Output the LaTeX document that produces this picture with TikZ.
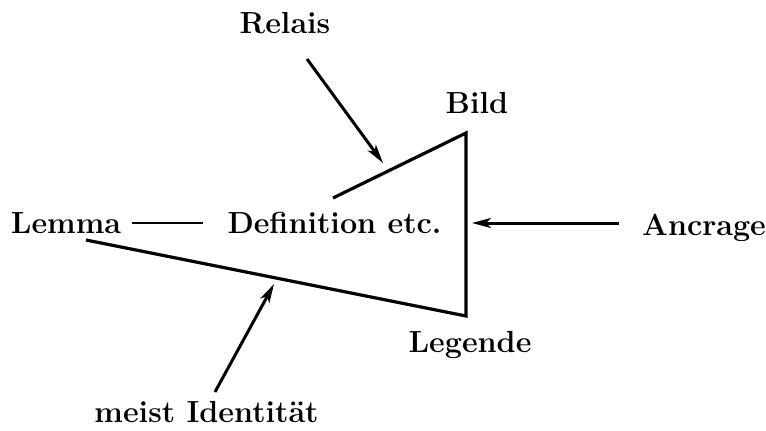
\documentclass[tikz,border=0pt]{standalone}
\usetikzlibrary{arrows.meta}
\begin{document}
\begin{tikzpicture}[x=1pt,y=-1pt,
  lbl/.style={anchor=base,inner sep=0pt,font=\fontsize{30.5}{35}\selectfont\bfseries},
  edge/.style={line width=3.2pt,line join=miter},
  thinedge/.style={line width=2.2pt},
  arr/.style={line width=3pt,-{Stealth[length=19pt,width=10pt,inset=5pt]}}]
\useasboundingbox (0,0) rectangle (766,431);
% labels
\node[lbl] (relais)  at (285,33)  {Relais};
\node[lbl] (bild)    at (477,113) {Bild};
\node[lbl] (lemma)   at (66,233)  {Lemma};
\node[lbl] (def)     at (334.5,233) {Definition etc.};
\node[lbl] (ancrage) at (704,235) {Ancrage};
\node[lbl] (legende) at (470,352) {Legende};
\node[lbl] (meist)   at (206.5,422) {meist Identit\"at};
% triangle corners
\coordinate (top) at (466,133);
\coordinate (bot) at (466,316);
\coordinate (up)  at (333,198);
\coordinate (lo)  at (86,240);
% arrow ends
\coordinate (rs) at (307,59);
\coordinate (rt) at (383,163);
\coordinate (as) at (619,223);
\coordinate (at) at (472,223);
\coordinate (ms) at (215,392);
\coordinate (mt) at (274,284);
\coordinate (ls) at (132,223);
\coordinate (le) at (203,223);
% triangle
\draw[edge] (up) -- (top) -- (bot) -- (lo);
% Lemma -- Definition
\draw[thinedge] (ls) -- (le);
% arrows
\draw[arr] (rs) -- (rt);
\draw[arr] (as) -- (at);
\draw[arr] (ms) -- (mt);
\end{tikzpicture}
\end{document}
